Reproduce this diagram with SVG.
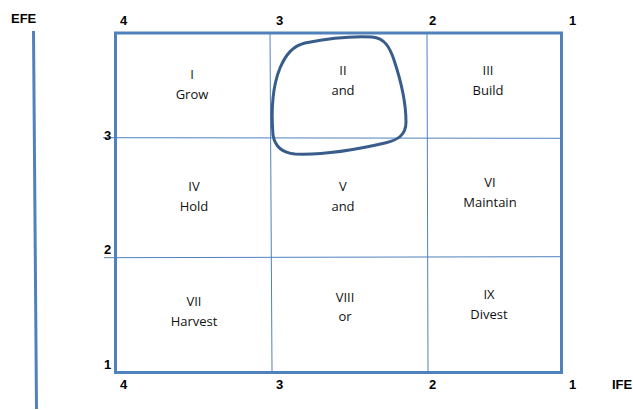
<svg xmlns="http://www.w3.org/2000/svg" width="633" height="410" viewBox="0 0 633 410">
  <style>
    .axis { font-family: "Liberation Sans", Arial, sans-serif; font-size: 13px; font-weight: bold; fill: #000; }
    .cell { font-family: "Open Sans", "Liberation Sans", sans-serif; font-size: 13px; fill: #111; text-anchor: middle; }
    .frame { fill: none; stroke: #4F81BD; stroke-width: 3; }
    .grid { fill: none; stroke: #4F81BD; stroke-width: 1; }
    .blob { fill: none; stroke: #385D8A; stroke-width: 3; }
  </style>
  <rect width="633" height="410" fill="#fff"/>

  <!-- EFE axis line -->
  <line x1="33.5" y1="31" x2="36.5" y2="409" stroke="#4F81BD" stroke-width="3"/>

  <!-- Grid lines -->
  <g id="grid">
    <line class="grid" x1="270" y1="32" x2="272" y2="372"/>
    <line class="grid" x1="427" y1="32" x2="428" y2="372"/>
    <line class="grid" x1="103" y1="137.7" x2="561" y2="138.3"/>
    <line class="grid" x1="104" y1="257.7" x2="561" y2="256.7"/>
  </g>

  <!-- Outer frame -->
  <rect class="frame" x="115.5" y="33" width="446" height="339.5"/>

  <!-- Highlight around cell II -->
  <path class="blob" d="M 305,43 C 330,38 355,36 372,37 C 385,38 390,48 394,60 C 400,78 406,100 406,122 C 406,135 398,140 385,143 C 355,150 320,155 295,154 C 283,153 275,147 273,135 C 271,110 273,85 280,68 C 286,54 293,46 305,43 Z"/>

  <!-- Axis labels -->
  <g id="labels">
    <text class="axis" x="11" y="23">EFE</text>
    <text class="axis" x="120" y="25">4</text>
    <text class="axis" x="276" y="25">3</text>
    <text class="axis" x="429" y="25">2</text>
    <text class="axis" x="569" y="25">1</text>
    <text class="axis" x="104" y="140">3</text>
    <text class="axis" x="104" y="254">2</text>
    <text class="axis" x="104" y="369">1</text>
    <text class="axis" x="120" y="389">4</text>
    <text class="axis" x="276" y="389">3</text>
    <text class="axis" x="429" y="389">2</text>
    <text class="axis" x="569" y="389">1</text>
    <text class="axis" x="612" y="389">IFE</text>
  </g>

  <!-- Cells -->
  <g id="cell-1"><text class="cell" x="192" y="79">I</text><text class="cell" x="192" y="99">Grow</text></g>
  <g id="cell-2"><text class="cell" x="343" y="75">II</text><text class="cell" x="343" y="95">and</text></g>
  <g id="cell-3"><text class="cell" x="488" y="75">III</text><text class="cell" x="488" y="95">Build</text></g>
  <g id="cell-4"><text class="cell" x="194" y="191">IV</text><text class="cell" x="194" y="211">Hold</text></g>
  <g id="cell-5"><text class="cell" x="343" y="191">V</text><text class="cell" x="343" y="211">and</text></g>
  <g id="cell-6"><text class="cell" x="490" y="187">VI</text><text class="cell" x="490" y="207">Maintain</text></g>
  <g id="cell-7"><text class="cell" x="194" y="306">VII</text><text class="cell" x="194" y="326">Harvest</text></g>
  <g id="cell-8"><text class="cell" x="345" y="302">VIII</text><text class="cell" x="345" y="321">or</text></g>
  <g id="cell-9"><text class="cell" x="489" y="299">IX</text><text class="cell" x="489" y="319">Divest</text></g>
</svg>
